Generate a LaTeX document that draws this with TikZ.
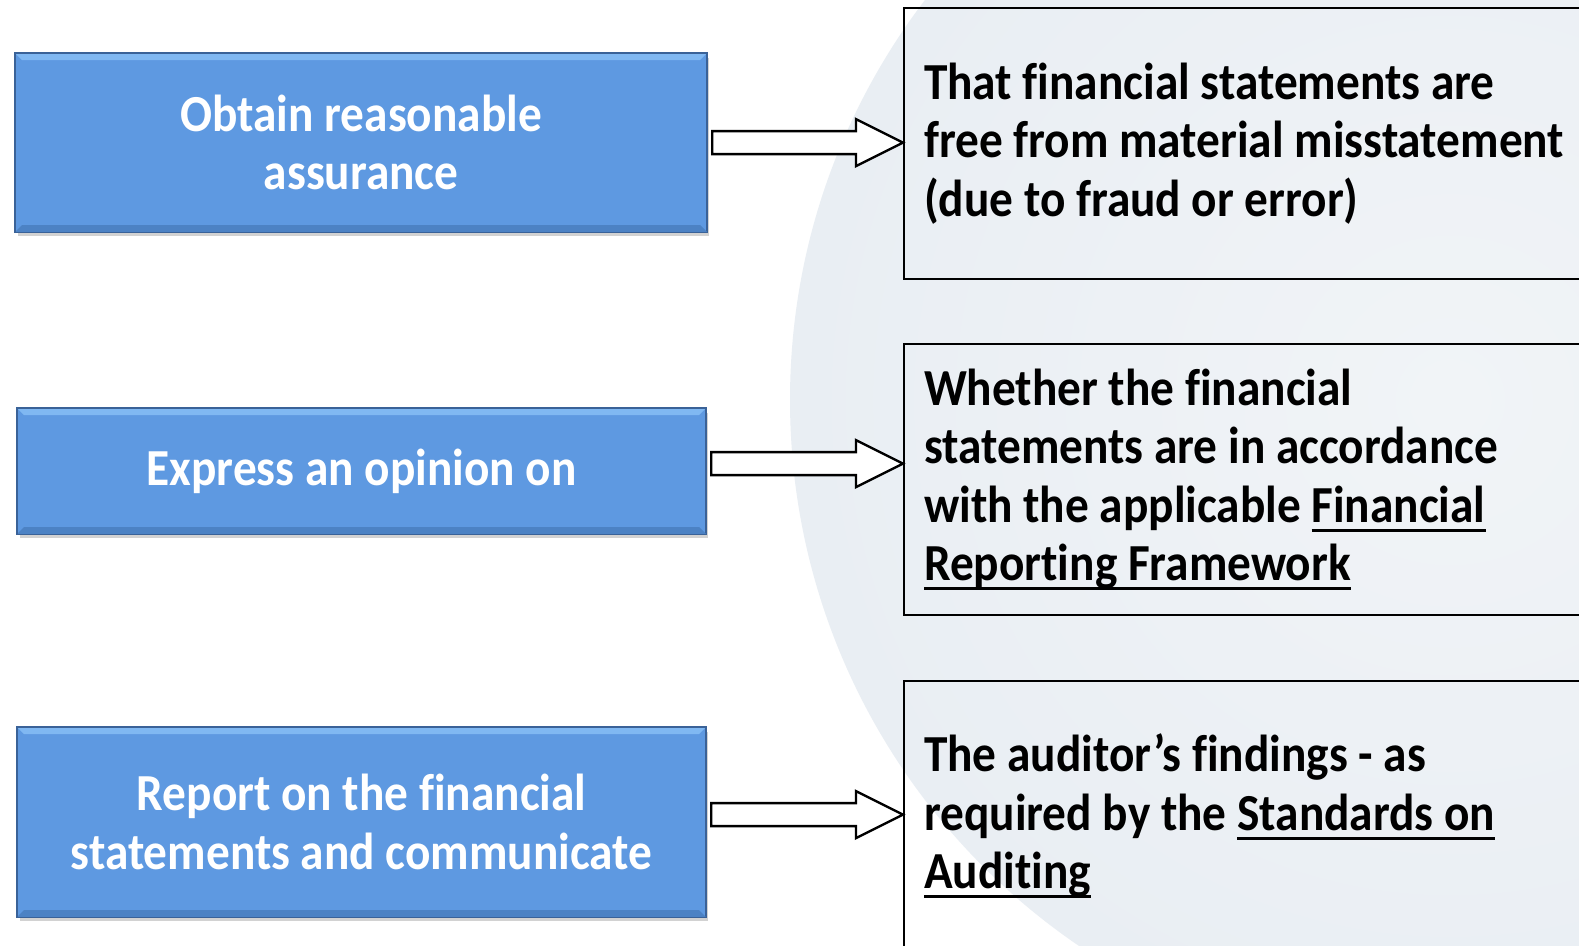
\documentclass[tikz,border=0pt]{standalone}
\usepackage{fontspec}
\setmainfont{Carlito}[FakeStretch=0.91, Ligatures=NoCommon]
\usepackage{tikz}
\usetikzlibrary{shapes,positioning,calc,shadows}

\newcommand{\uln}[1]{\leavevmode\setbox0\hbox{#1}\rlap{\rule[-10pt]{\wd0}{3pt}}\box0}

\definecolor{boxblue}{RGB}{94,153,225}
\definecolor{boxedge}{RGB}{58,98,152}
\definecolor{bevtop}{RGB}{128,184,242}
\definecolor{bevbot}{RGB}{76,130,196}
\definecolor{globein}{RGB}{241,244,247}
\definecolor{globeout}{RGB}{233,238,243}

\tikzset{
  bluebox/.style={draw=boxedge, line width=1.2pt, fill=boxblue, text=white, align=center,
    anchor=north west, inner sep=0pt,
    drop shadow={opacity=0.35, shadow xshift=2pt, shadow yshift=-4pt},
    font=\fontsize{52}{58.4}\selectfont\bfseries},
  textbox/.style={draw=black, line width=2.2pt, anchor=north west, align=flush left,
    text width=700pt, inner xsep=20pt, inner ysep=0pt,
    font=\fontsize{52}{58.4}\selectfont\bfseries},
  blockarrow/.style={draw=black, line width=2.4pt, fill=white, line join=miter}
}

\begin{document}
\begin{tikzpicture}[x=1pt, y=-1pt]
  \useasboundingbox (0,0) rectangle (1579,945);
  % background and globe
  \fill[white] (0,0) rectangle (1579,945);
  \shade[inner color=globein, outer color=globeout] (1450,400) circle (660pt);

  % left column
  \node[bluebox, minimum width=691pt, minimum height=178pt] (o1) at (15,53) {Obtain reasonable\\assurance};
  \node[bluebox, minimum width=688pt, minimum height=125pt] (o2) at (17,408) {Express an opinion on};
  \node[bluebox, minimum width=688pt, minimum height=189pt] (o3) at (17,727) {Report on the financial\\statements and communicate};
  \foreach \n in {o1,o2,o3}{
    \fill[bevtop] (\n.north west) -- (\n.north east) -- ([shift={(-7pt,-7pt)}]\n.north east) -- ([shift={(7pt,-7pt)}]\n.north west) -- cycle;
    \fill[bevbot] (\n.south west) -- (\n.south east) -- ([shift={(-7pt,7pt)}]\n.south east) -- ([shift={(7pt,7pt)}]\n.south west) -- cycle;
    \draw[boxedge, line width=1.2pt] (\n.north west) rectangle (\n.south east);
  }

  % right column
  \node[textbox, minimum height=271pt] (t1) at (903,7) {That financial statements are\\free from material misstatement\\(due to fraud or error)};
  \node[textbox, minimum height=271pt] (t2) at (903,343) {Whether the financial\\statements are in accordance\\with the applicable \uln{Financial}\\\uln{Reporting Framework}};
  \node[textbox, minimum height=270pt] (t3) at (903,680) {The auditor’s findings - as\\required by the \uln{Standards on}\\\uln{Auditing}};

  % block arrows
  \foreach \a/\b/\yo in {o1/t1/0, o2/t2/7.5, o3/t3/7.5}
    \draw[blockarrow] let \p1=($(\a.east)+(5pt,\yo pt)$), \p2=(\b.west) in
      (\x1,\y1+11.5pt) -- (\x2-47pt,\y1+11.5pt) -- (\x2-47pt,\y1+23.5pt) -- (\x2,\y1)
      -- (\x2-47pt,\y1-23.5pt) -- (\x2-47pt,\y1-11.5pt) -- (\x1,\y1-11.5pt) -- cycle;
\end{tikzpicture}
\end{document}
